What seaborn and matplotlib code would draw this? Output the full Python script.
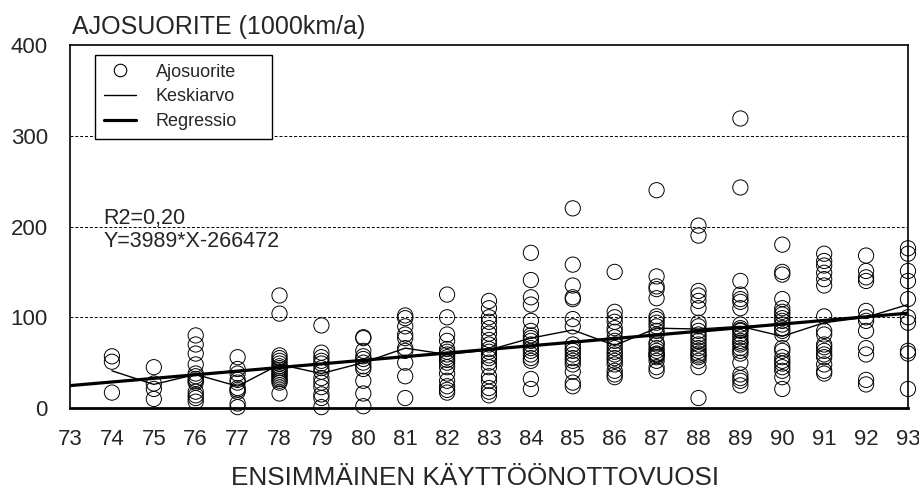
import pandas as pd
import matplotlib
matplotlib.use("Agg")
import matplotlib.pyplot as plt
from matplotlib.lines import Line2D
import seaborn as sns

sns.set_style("white")
plt.rcParams['font.family'] = ['Liberation Sans', 'DejaVu Sans']

# ajosuorite (1000 km/a) per ensimmäinen käyttöönottovuosi
vuodet = list(range(74, 94))
v74 = [57, 51, 17]
v75 = [45, 27, 21, 10]
v76 = [80, 70, 60, 48, 38, 35, 32, 30, 28, 18, 14, 11, 7]
v77 = [56, 43, 38, 31, 28, 22, 20, 18, 5, 1]
v78 = [124, 104, 58, 55, 52, 49, 46, 44, 42, 40, 38, 36, 34, 32, 30, 28, 16]
v79 = [91, 61, 56, 52, 49, 44, 40, 33, 28, 23, 15, 11, 1]
v80 = [78, 77, 63, 57, 54, 50, 46, 43, 30, 16, 2]
v81 = [102, 99, 90, 81, 77, 66, 63, 50, 35, 11]
v82 = [125, 100, 81, 74, 65, 62, 59, 56, 53, 50, 45, 38, 30, 24, 20, 17]
v83 = [118, 110, 100, 95, 88, 82, 75, 70, 65, 62, 58, 55, 50, 45, 35, 30, 22, 18, 14]
v84 = [171, 141, 122, 114, 96, 85, 80, 77, 74, 70, 66, 63, 59, 55, 52, 32, 21]
v85 = [220, 158, 135, 122, 120, 98, 90, 70, 66, 63, 59, 55, 52, 48, 40, 28, 24]
v86 = [150, 106, 100, 95, 88, 84, 78, 74, 70, 66, 62, 59, 55, 52, 48, 41, 37, 34]
v87 = [240, 145, 134, 131, 121, 101, 98, 94, 90, 85, 81, 72, 70, 66, 63, 60,
       59, 58, 56, 52, 45, 41]
v88 = [201, 190, 129, 124, 118, 110, 94, 90, 85, 81, 78, 74, 70, 66, 63, 60,
       58, 56, 52, 45, 11]
v89 = [319, 243, 140, 125, 120, 117, 110, 92, 88, 86, 85, 81, 78, 74, 72, 70,
       66, 63, 60, 50, 37, 33, 30, 25]
v90 = [180, 150, 147, 120, 110, 106, 103, 99, 96, 92, 88, 85, 81, 66, 63, 56,
       52, 49, 45, 41, 34, 21]
v91 = [170, 162, 157, 149, 142, 135, 101, 85, 81, 70, 67, 63, 59, 56, 48, 41, 38]
v92 = [168, 151, 144, 140, 107, 100, 96, 85, 66, 59, 31, 26]
v93 = [176, 170, 151, 140, 120, 100, 94, 63, 60, 21]
keskiarvo = [41, 26, 37, 24, 48, 38, 50, 66, 59, 64, 77, 86, 69, 88, 87, 90,
             79, 94, 100, 114]
regr_x = [73, 93]
regr_y = [24.7, 104.5]

kaikki = [v74, v75, v76, v77, v78, v79, v80, v81, v82, v83, v84, v85, v86,
          v87, v88, v89, v90, v91, v92, v93]
rows = []
for vuosi, arvot in zip(vuodet, kaikki):
    for a in arvot:
        rows.append((vuosi, a))
data = pd.DataFrame(rows, columns=['vuosi', 'ajosuorite'])

fig = plt.figure(figsize=(9.19, 4.9), dpi=100)
ax = fig.add_axes([0.0762, 0.1673, 0.9118, 0.7409])

sns.scatterplot(data=data, x='vuosi', y='ajosuorite', marker='o', s=120,
                facecolors='none', edgecolor='black', linewidth=0.7,
                clip_on=False, zorder=3, ax=ax)
sns.lineplot(x=vuodet, y=keskiarvo, color='black', lw=1.0, zorder=4, ax=ax)
sns.lineplot(x=regr_x, y=regr_y, color='black', lw=2.3, zorder=5, ax=ax)

ax.set_xlim(73, 93)
ax.set_ylim(0, 400)
ax.set_xticks(range(73, 94))
ax.set_yticks([0, 100, 200, 300, 400])
ax.tick_params(axis='both', length=0, labelsize=16)
ax.tick_params(axis='x', pad=15)
ax.tick_params(axis='y', pad=16)
ax.set_xlabel('')
ax.set_ylabel('')
for y in [100, 200, 300]:
    ax.axhline(y, color='black', lw=0.7, ls=(0, (3, 2)), zorder=1)
for s in ax.spines.values():
    s.set_color('black')
    s.set_linewidth(1.2)
ax.spines['bottom'].set_linewidth(2)

ax.text(73.79, 203, 'R2=0,20', fontsize=15.5, va='baseline')
ax.text(73.79, 177.5, 'Y=3989*X-266472', fontsize=15.5, va='baseline')

handles = [Line2D([], [], marker='o', ls='none', mfc='none', mec='black',
                  ms=9, mew=0.8),
           Line2D([], [], color='black', lw=1.0),
           Line2D([], [], color='black', lw=2.3)]
leg = ax.legend(handles, ['Ajosuorite', 'Keskiarvo', 'Regressio'],
                loc='upper left', bbox_to_anchor=(0.0298, 0.747, 0.2112, 0.226),
                mode='expand', fontsize=13,
                frameon=True, fancybox=False, edgecolor='black', framealpha=1,
                borderpad=0.5, labelspacing=0.42, handlelength=1.75,
                handletextpad=1.1, borderaxespad=0)
leg.get_frame().set_linewidth(1.0)

fig.text(72 / 919, 1 - 34 / 490, 'AJOSUORITE (1000km/a)', fontsize=18,
         va='baseline')
fig.text(475 / 919, 1 - 485 / 490, 'ENSIMMÄINEN KÄYTTÖÖNOTTOVUOSI',
         fontsize=18.8, ha='center', va='baseline')

plt.savefig('out.png', dpi=100)
